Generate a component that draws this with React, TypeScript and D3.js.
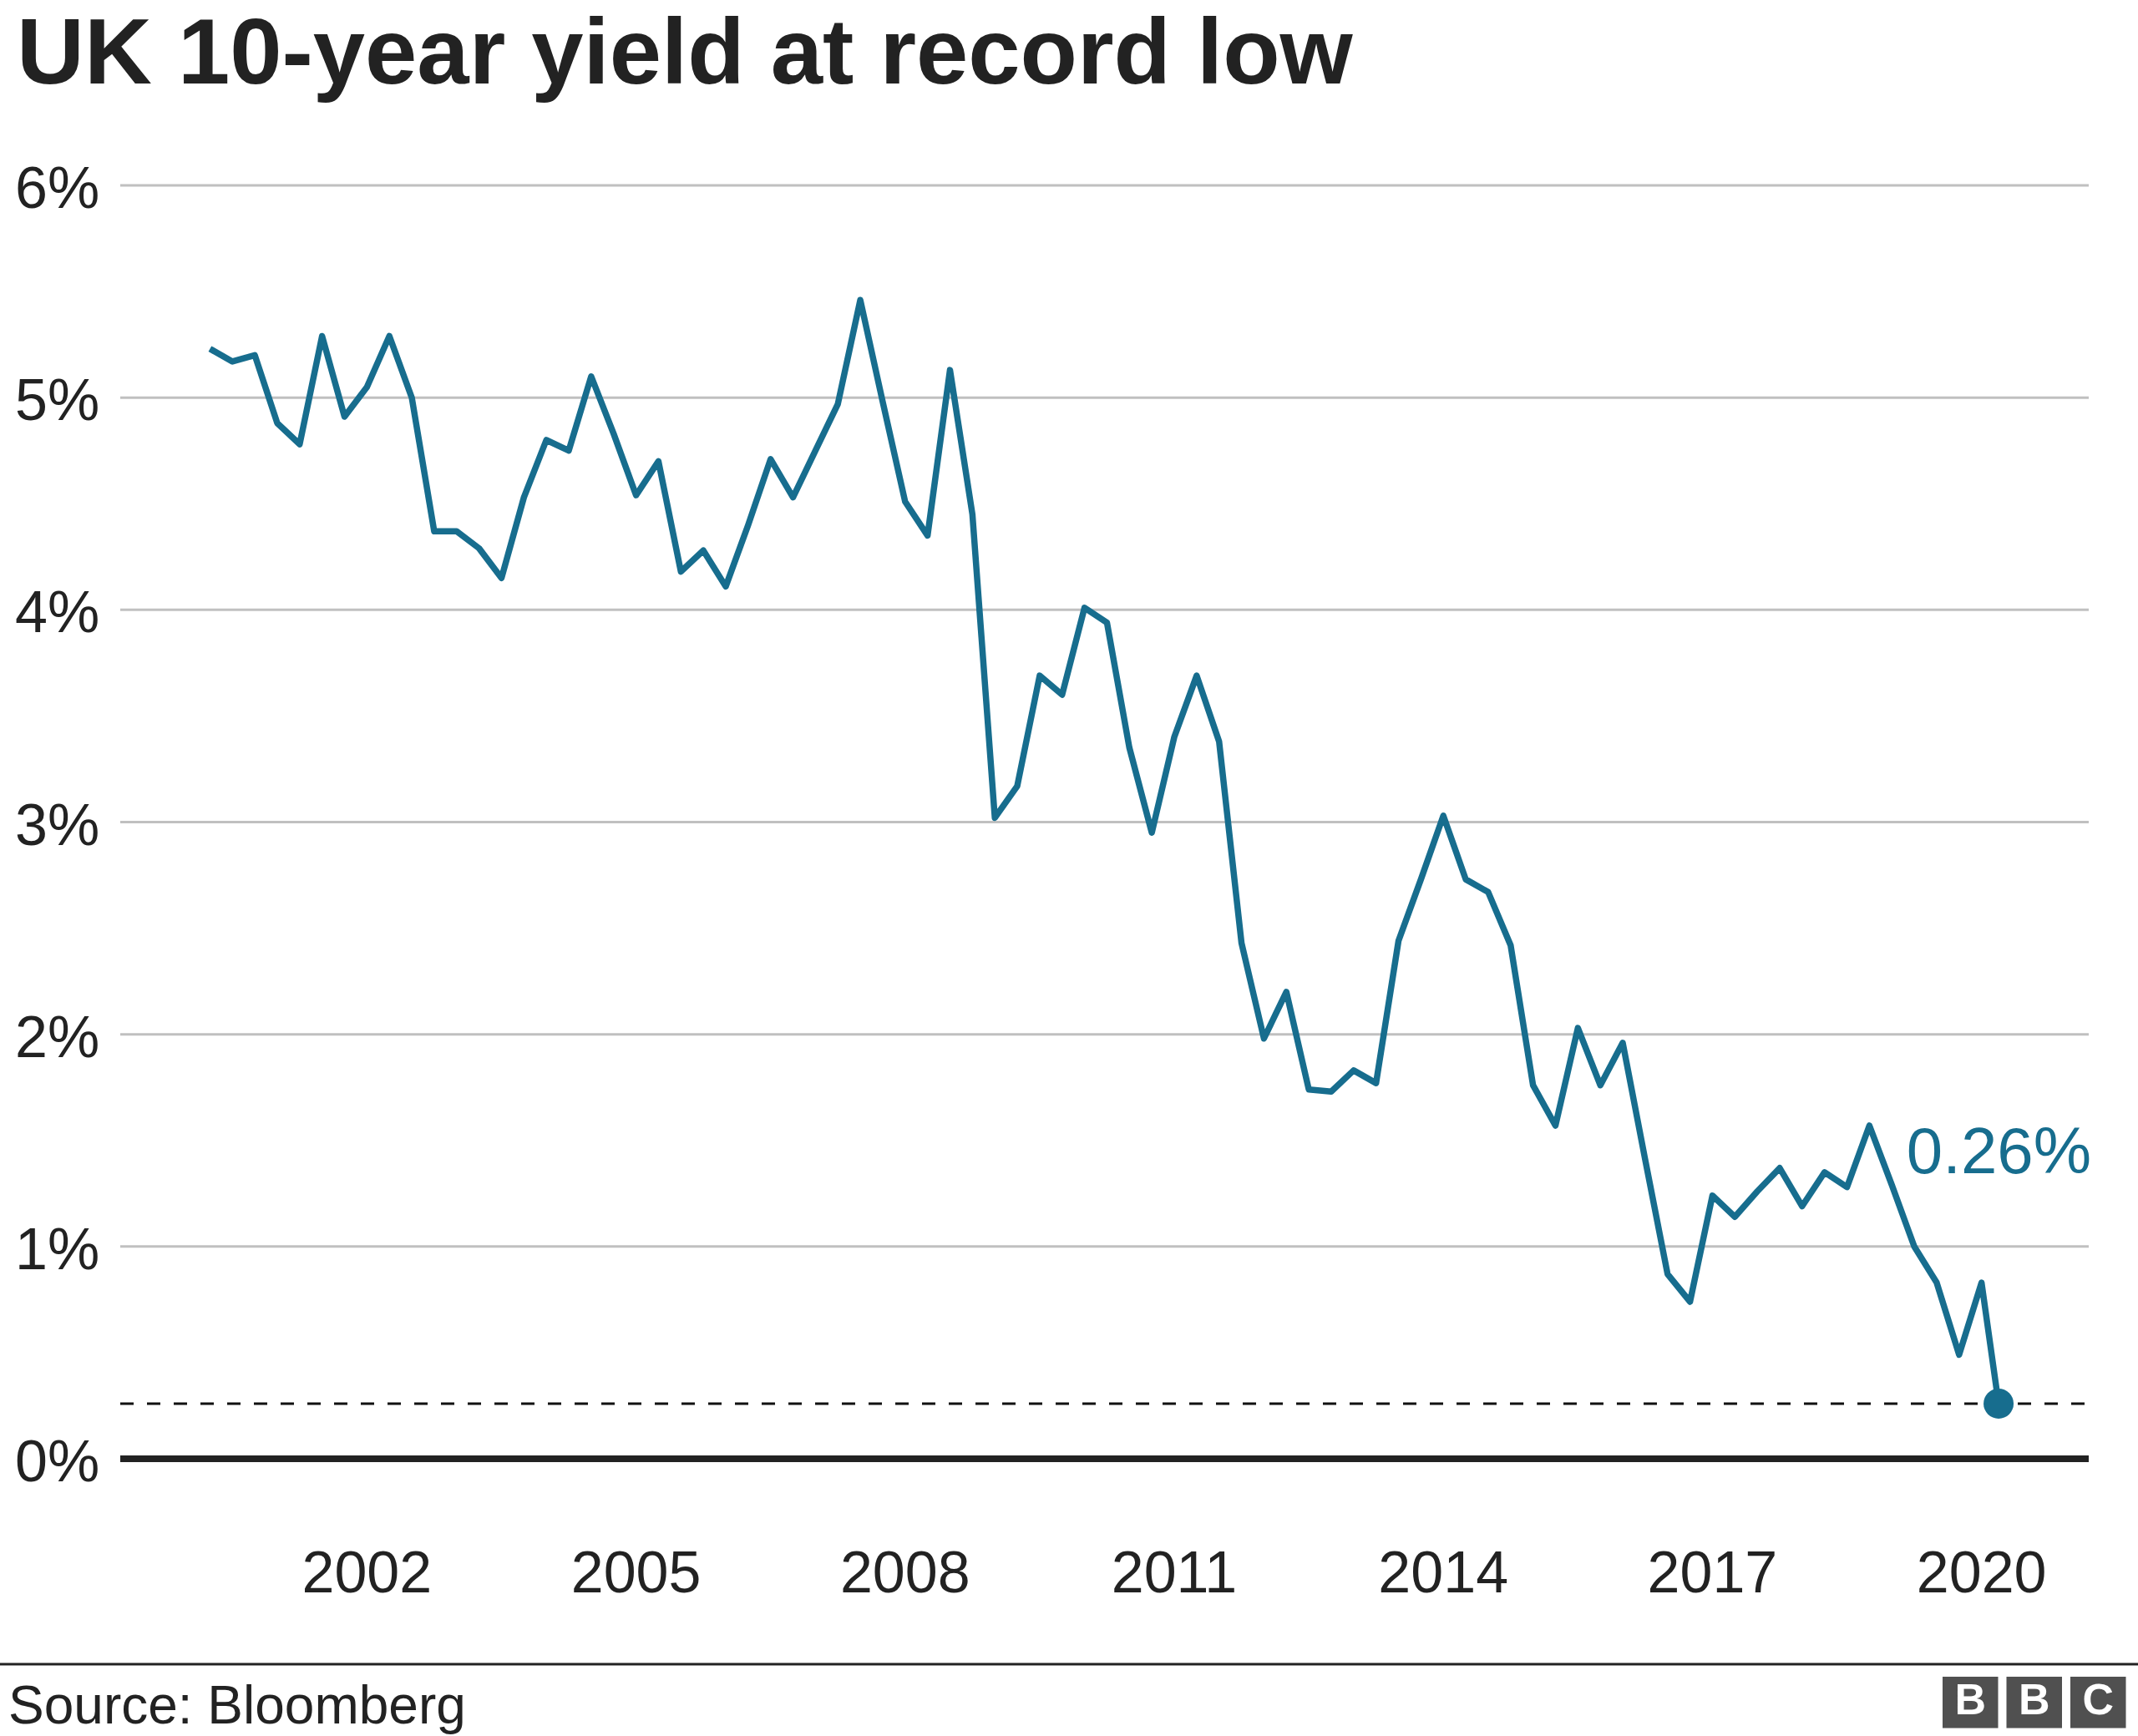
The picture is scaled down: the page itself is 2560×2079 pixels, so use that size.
import { useEffect, useRef } from 'react';
import * as d3 from 'd3';

// quarterly UK 10-year gilt yield (%), Q2 2000 .. Q1 2020
const firstQuarter = 2000.25;
const yields = [
  5.23, 5.17, 5.2, 4.88, 4.78, 5.29, 4.91, 5.05, 5.29, 5.0,
  4.37, 4.37, 4.29, 4.15, 4.53, 4.8, 4.75, 5.1, 4.83, 4.54,
  4.7, 4.18, 4.28, 4.11, 4.4, 4.71, 4.53, 4.75, 4.97, 5.46,
  4.98, 4.51, 4.35, 5.13, 4.45, 3.02, 3.17, 3.69, 3.6, 4.01,
  3.94, 3.35, 2.95, 3.4, 3.69, 3.38, 2.43, 1.98, 2.2, 1.74,
  1.73, 1.83, 1.77, 2.44, 2.73, 3.03, 2.73, 2.67, 2.42, 1.76,
  1.57, 2.03, 1.76, 1.96, 1.41, 0.87, 0.74, 1.24, 1.14, 1.26,
  1.37, 1.19, 1.35, 1.28, 1.57, 1.29, 1.0, 0.83, 0.49, 0.83,
];
// latest reading (early March 2020)
const latestYear = 2020.19;
const latestValue = 0.26;

const yearTicks = [2002, 2005, 2008, 2011, 2014, 2017, 2020];
const yTicks = [0, 1, 2, 3, 4, 5, 6];

const W = 2560;
const H = 2079;
const FONT = '"Liberation Sans", Arial, Helvetica, sans-serif';
const LINE = '#176d8e';
const INK = '#222222';

export default function App() {
  const ref = useRef<SVGSVGElement | null>(null);

  useEffect(() => {
    document.body.style.margin = '0';
    if (!ref.current) return;
    const svg = d3.select(ref.current);
    svg.selectAll('*').remove();

    const left = 144;
    const right = 2501;
    const x = d3.scaleLinear().domain([1999.25, 2021.195]).range([left, right]);
    const y = d3.scaleLinear().domain([0, 6]).range([1747, 222]);

    const points = yields.map((v, i) => ({ year: firstQuarter + i * 0.25, value: v }));
    points.push({ year: latestYear, value: latestValue });

    // title
    svg
      .append('text')
      .attr('x', 20)
      .attr('y', 100)
      .attr('font-family', FONT)
      .attr('font-weight', 'bold')
      .attr('font-size', 112)
      .attr('fill', INK)
      .text('UK 10-year yield at record low');

    // gridlines + y labels
    const grid = svg.append('g');
    yTicks.forEach((t) => {
      if (t > 0) {
        grid
          .append('line')
          .attr('x1', left)
          .attr('x2', right)
          .attr('y1', y(t))
          .attr('y2', y(t))
          .attr('stroke', '#c0c0c0')
          .attr('stroke-width', 3);
      }
      grid
        .append('text')
        .attr('x', 18)
        .attr('y', y(t) + 27)
        .attr('font-family', FONT)
        .attr('font-size', 70)
        .attr('fill', INK)
        .text(`${t}%`);
    });

    // x labels
    svg
      .append('g')
      .selectAll('text')
      .data(yearTicks)
      .join('text')
      .attr('x', (d) => x(d))
      .attr('y', 1907)
      .attr('text-anchor', 'middle')
      .attr('font-family', FONT)
      .attr('font-size', 70)
      .attr('fill', INK)
      .text((d) => String(d));

    // dashed reference at latest value
    svg
      .append('line')
      .attr('x1', left)
      .attr('x2', right - 4)
      .attr('y1', y(latestValue))
      .attr('y2', y(latestValue))
      .attr('stroke', '#111')
      .attr('stroke-width', 3)
      .attr('stroke-dasharray', '16,16');

    // zero line
    svg
      .append('line')
      .attr('x1', left)
      .attr('x2', right)
      .attr('y1', y(0))
      .attr('y2', y(0))
      .attr('stroke', INK)
      .attr('stroke-width', 8);

    const line = d3
      .line<{ year: number; value: number }>()
      .x((d) => x(d.year))
      .y((d) => y(d.value));

    svg
      .append('path')
      .datum(points)
      .attr('d', line)
      .attr('fill', 'none')
      .attr('stroke', LINE)
      .attr('stroke-width', 7.5)
      .attr('stroke-linejoin', 'round');

    svg
      .append('circle')
      .attr('cx', x(latestYear))
      .attr('cy', y(latestValue))
      .attr('r', 18)
      .attr('fill', LINE);

    svg
      .append('text')
      .attr('x', 2504)
      .attr('y', 1405)
      .attr('text-anchor', 'end')
      .attr('font-family', FONT)
      .attr('font-size', 78)
      .attr('fill', LINE)
      .text(`${latestValue}%`);

    // footer
    svg
      .append('line')
      .attr('x1', 0)
      .attr('x2', W)
      .attr('y1', 1993)
      .attr('y2', 1993)
      .attr('stroke', INK)
      .attr('stroke-width', 3);

    svg
      .append('text')
      .attr('x', 10)
      .attr('y', 2064)
      .attr('font-family', FONT)
      .attr('font-size', 64)
      .attr('fill', INK)
      .text('Source: Bloomberg');

    const logo = svg.append('g');
    ['B', 'B', 'C'].forEach((ch, i) => {
      const bx = 2326 + i * 76.5;
      logo
        .append('rect')
        .attr('x', bx)
        .attr('y', 2008)
        .attr('width', 66.5)
        .attr('height', 61.5)
        .attr('fill', '#505050');
      logo
        .append('text')
        .attr('x', bx + 33.25)
        .attr('y', 2053)
        .attr('text-anchor', 'middle')
        .attr('font-family', FONT)
        .attr('font-weight', 'bold')
        .attr('font-size', 52)
        .attr('fill', '#fff')
        .text(ch);
    });
  }, []);

  return (
    <svg
      ref={ref}
      width={W}
      height={H}
      viewBox={`0 0 ${W} ${H}`}
      style={{ display: 'block', background: '#fff' }}
    />
  );
}
